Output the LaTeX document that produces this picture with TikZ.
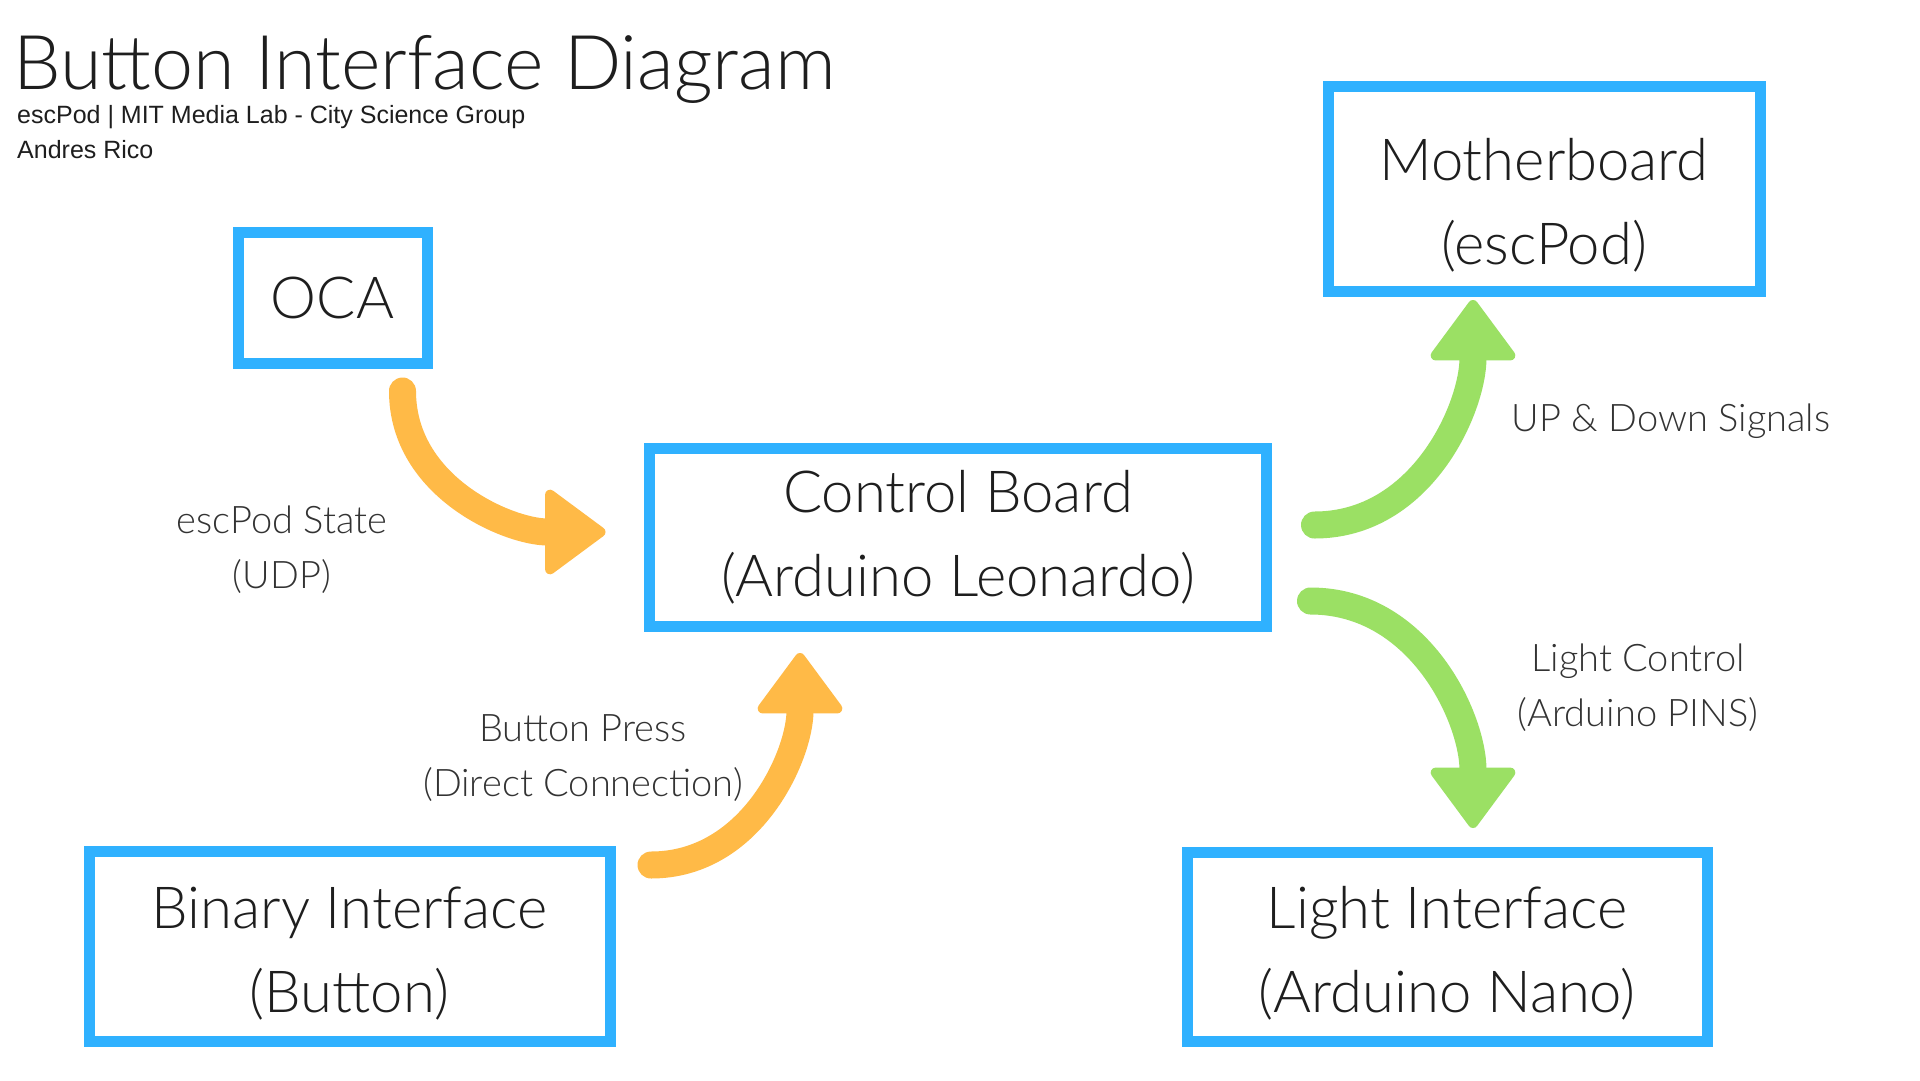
\documentclass[tikz,border=0pt]{standalone}
\usepackage{fontspec}
\setmainfont{Lato Light}
\newfontfamily\subfont{Liberation Sans}
\usepackage{tikz}
\usetikzlibrary{arrows.meta}
\definecolor{boxblue}{HTML}{2FB1FF}
\definecolor{flowamber}{HTML}{FFBA47}
\definecolor{flowgreen}{HTML}{9BE064}
\definecolor{inkgray}{HTML}{1E1E1E}
\definecolor{notegray}{HTML}{333333}

\begin{document}
\begin{tikzpicture}
  [x=1pt,y=-1pt,
   box/.style={draw=boxblue,line width=11pt,outer sep=0pt,inner sep=0pt,
     align=center,text=inkgray,font=\fontsize{58}{84}\selectfont},
   note/.style={align=center,text=notegray,font=\fontsize{38}{55}\selectfont},
   flow/.style={draw=#1,line width=27pt,line cap=round,
     -{Triangle[length=64pt,width=92pt,line width=10pt,round]}}]
  \useasboundingbox[fill=white] (0,0) rectangle (1920,1080);
  \node[anchor=base west,inner sep=0pt,text=inkgray,font=\fontsize{75.5}{76}\selectfont] (title) at (13,89) {Button Interface Diagram};
  \node[anchor=base west,inner sep=0pt,text=inkgray,font=\subfont\fontsize{25}{25}\selectfont] (credit) at (17,123) {escPod | MIT Media Lab - City Science Group};
  \node[anchor=base west,inner sep=0pt,text=inkgray,font=\subfont\fontsize{25}{25}\selectfont] (author) at (17,158) {Andres Rico};
  \node[box,minimum width=189pt,minimum height=131pt] (oca) at (332.5,297.5) {OCA};
  \node[box,minimum width=617pt,minimum height=178pt] (ctrl) at (958,537) {Control Board\\(Arduino Leonardo)};
  \node[box,minimum width=432pt,minimum height=205pt] (mobo) at (1544,188.5) {\rule{0pt}{75pt}Motherboard\\(escPod)};
  \node[box,minimum width=521pt,minimum height=190pt] (binary) at (349.5,946) {\rule{0pt}{56pt}Binary Interface\\(Button)};
  \node[box,minimum width=520pt,minimum height=189pt] (light) at (1447,946.5) {\rule{0pt}{56pt}Light Interface\\(Arduino Nano)};
  \node[note] (state) at (282,550) {escPod State\\(UDP)};
  \node[note] (press) at (583,758) {Button Press\\(Direct Connection)};
  \node[note] (updown) at (1671,421) {UP \& Down Signals};
  \node[note] (lightctl) at (1638,688) {Light Control\\(Arduino PINS)};
  % flows into and out of the control board
  \draw[flow=flowamber] ([xshift=70pt,yshift=-28pt]oca.south) to[out=-90,in=180] ([xshift=-44pt,yshift=5pt]ctrl.west);
  \draw[flow=flowamber] ([xshift=41pt,yshift=81pt]binary.east) to[out=0,in=-90] ([xshift=-158pt,yshift=-27pt]ctrl.south);
  \draw[flow=flowgreen] ([xshift=48pt,yshift=12pt]ctrl.east) to[out=0,in=-90] ([xshift=-71pt,yshift=-9pt]mobo.south);
  \draw[flow=flowgreen] ([xshift=44pt,yshift=-64pt]ctrl.east) to[out=0,in=90] ([xshift=26pt,yshift=24pt]light.north);
\end{tikzpicture}
\end{document}
